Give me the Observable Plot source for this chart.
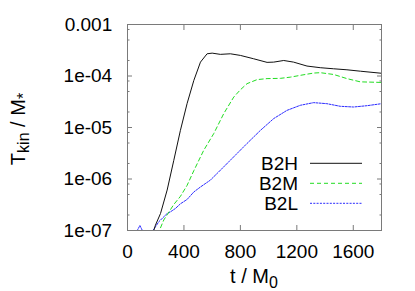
<!DOCTYPE html>
<html><head><meta charset="utf-8">
<script src="https://cdn.jsdelivr.net/npm/d3@7"></script>
<script src="https://cdn.jsdelivr.net/npm/@observablehq/plot@0.6"></script>
<style>body{margin:0;background:#fff}</style>
</head><body><div id="chart"></div>
<script>
const seriesNames = ["B2H", "B2M", "B2L"];
const seriesColors = ["#111111", "#22dd22", "#2a2aff"];
const seriesDash = [null, "4,3", "2,1.3"];

const tB2H = [175,198,234,281,328,375,422,470,517,564,600,658,729,800,894,989,1036,1107,1177,1272,1366,1461,1555,1650,1800];
const vB2H = [0.8e-7,1.27e-7,2.14e-7,6.1e-7,2.3e-6,8.8e-6,2.9e-5,8.2e-5,1.86e-4,2.7e-4,2.78e-4,2.63e-4,2.7e-4,2.51e-4,2.16e-4,1.84e-4,1.86e-4,2.0e-4,1.86e-4,1.56e-4,1.45e-4,1.38e-4,1.32e-4,1.24e-4,1.13e-4];

const tB2M = [215,257,328,375,422,470,540,611,682,753,800,847,918,989,1083,1154,1225,1319,1366,1461,1555,1650,1800];
const vB2M = [0.85e-7,1.6e-7,3.2e-7,4.6e-7,7.5e-7,1.45e-6,3.6e-6,7.6e-6,1.86e-5,3.9e-5,5.4e-5,7.1e-5,8.5e-5,8.9e-5,9.0e-5,9.5e-5,1.03e-4,1.14e-4,1.16e-4,1.07e-4,8.9e-5,7.7e-5,7.5e-5];

const tB2L = [55,88,118,170,198,222,246,281,304,340,375,422,470,517,587,658,753,847,942,1036,1130,1225,1319,1413,1508,1602,1697,1800];
const vB2L = [0.85e-7,1.25e-7,0.85e-7,0.9e-7,1.18e-7,1.48e-7,1.72e-7,2.14e-7,2.3e-7,2.68e-7,3.3e-7,4.0e-7,5.6e-7,7.0e-7,9.5e-7,1.48e-6,2.7e-6,4.9e-6,8.8e-6,1.49e-5,2.15e-5,2.7e-5,3.04e-5,2.9e-5,2.58e-5,2.5e-5,2.65e-5,2.9e-5];

const xTicks = [0, 400, 800, 1200, 1600];
const yTicks = [1e-7, 1e-6, 1e-5, 1e-4, 1e-3];
const yTickLabels = ["1e-07", "1e-06", "1e-05", "1e-04", "0.001"];
const yMinorMantissas = [2, 5, 8];

const seriesT = [tB2H, tB2M, tB2L];
const seriesV = [vB2H, vB2M, vB2L];
const rows = [];
seriesNames.forEach((s, k) => seriesT[k].forEach((t, i) => rows.push({s, t, v: seriesV[k][i]})));
const yMinor = [];
yTicks.slice(0, -1).forEach(d => yMinorMantissas.forEach(m => yMinor.push(d * m)));

const W = 415, H = 291, mL = 127, mR = 34, mT = 24, mB = 61;
const font = "'Liberation Sans', Arial, Helvetica, sans-serif";
const frameColor = "#7a7a7a";
const fmtY = d => yTickLabels[yTicks.findIndex(t => Math.abs(Math.log10(t) - Math.log10(d)) < 1e-6)];

const lineMarks = seriesNames.map((s, k) => Plot.line(rows.filter(r => r.s === s), {
  x: "t", y: "v", stroke: seriesColors[k], strokeWidth: 1,
  strokeDasharray: seriesDash[k] || undefined, clip: true
}));

const chart = Plot.plot({
  width: W, height: H,
  marginLeft: mL, marginRight: mR, marginTop: mT, marginBottom: mB,
  style: {fontFamily: font, fontSize: "19px", color: "black", background: "white"},
  x: {domain: [0, 1800]},
  y: {type: "log", domain: [1e-7, 1e-3]},
  marks: [
    ...lineMarks.reverse(),
    Plot.axisX({ticks: xTicks, anchor: "bottom", tickSize: 0, tickPadding: 13.5, tickFormat: d => String(d), fontSize: 19, label: null}),
    Plot.axisX({ticks: xTicks, anchor: "bottom", tickSize: -5, tickFormat: () => "", stroke: frameColor, label: null}),
    Plot.axisX({ticks: xTicks, anchor: "top", tickSize: -5, tickFormat: () => "", stroke: frameColor, label: null}),
    Plot.axisY({ticks: yTicks, anchor: "left", tickSize: 0, tickPadding: 15.3, tickFormat: fmtY, fontSize: 19, label: null}),
    Plot.axisY({ticks: yTicks, anchor: "left", tickSize: -5, tickFormat: () => "", stroke: frameColor, label: null}),
    Plot.axisY({ticks: yTicks, anchor: "right", tickSize: -5, tickFormat: () => "", stroke: frameColor, label: null}),
    Plot.axisY({ticks: yMinor, anchor: "left", tickSize: -2.5, tickFormat: () => "", stroke: frameColor, label: null}),
    Plot.axisY({ticks: yMinor, anchor: "right", tickSize: -2.5, tickFormat: () => "", stroke: frameColor, label: null}),
    Plot.frame({stroke: frameColor, strokeWidth: 1})
  ]
});
document.getElementById("chart").appendChild(chart);

const svg = d3.select(chart);
// Axis titles with subscripts
const yl = svg.append("text")
  .attr("transform", `translate(24.5,${(mT + H - mB) / 2 + 2}) rotate(-90)`)
  .attr("text-anchor", "middle").attr("font-family", font).attr("font-size", 20).attr("fill", "black");
yl.append("tspan").text("T");
yl.append("tspan").attr("font-size", 16).attr("dy", 4).text("kin");
yl.append("tspan").attr("dy", -4).text(" / M");
yl.append("tspan").attr("font-size", 16).attr("dy", 4).text("*");

const xl = svg.append("text")
  .attr("x", (mL + W - mR) / 2).attr("y", 283)
  .attr("text-anchor", "middle").attr("font-family", font).attr("font-size", 20).attr("fill", "black");
xl.append("tspan").text("t / M");
xl.append("tspan").attr("font-size", 16).attr("dy", 5).text("0");

// Legend
const lg = svg.append("g").attr("font-family", font).attr("font-size", 19);
seriesNames.forEach((s, k) => {
  const cy = 163.3 + k * 20;
  lg.append("text").attr("x", 298).attr("y", cy + 6.8).attr("text-anchor", "end").attr("fill", "black").text(s);
  lg.append("line").attr("x1", 310).attr("x2", 362).attr("y1", cy).attr("y2", cy)
    .attr("stroke", seriesColors[k]).attr("stroke-width", 1)
    .attr("stroke-dasharray", seriesDash[k] || null);
});
</script></body></html>
